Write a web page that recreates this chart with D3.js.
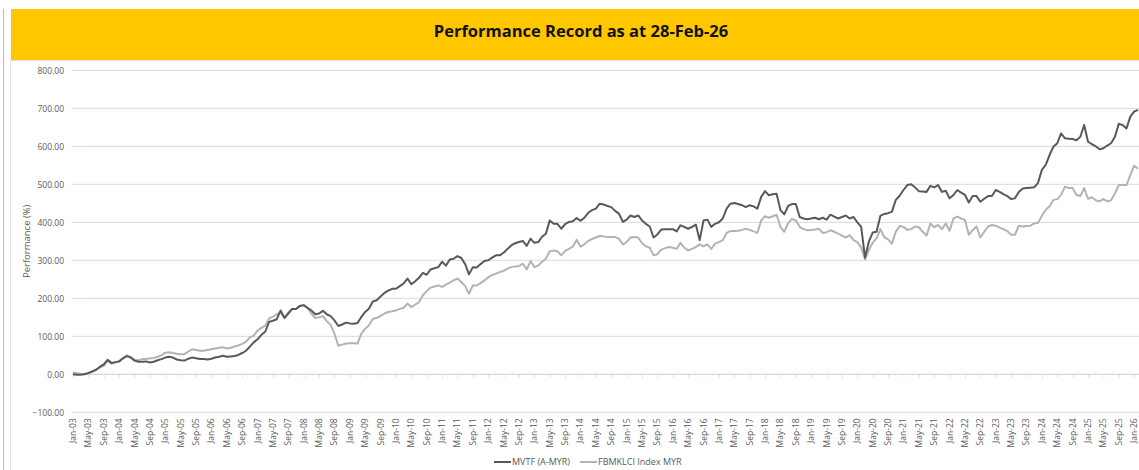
<!DOCTYPE html>
<html>
<head>
<meta charset="utf-8">
<script src="https://cdn.jsdelivr.net/npm/d3@7"></script>
<style>
  html, body { margin: 0; padding: 0; background: #fff; }
  svg { display: block; font-family: "Open Sans", "DejaVu Sans", sans-serif; }
</style>
</head>
<body>
<svg id="chart" width="1139" height="470"></svg>
<script>
// ---- data (monthly, Jan-03 .. Feb-26) ----
const monthNames = ['Jan','Feb','Mar','Apr','May','Jun','Jul','Aug','Sep','Oct','Nov','Dec'];
const firstYear = 2003, lastYear = 2026, lastMonth = 1; // Feb-26

const mvtf = [
  // 2003
  0, -1, -1, 0, 3, 7, 12, 20, 26, 38, 30, 32,
  // 2004
  34, 42, 48, 44, 36, 33, 33, 34, 31, 33, 37, 40,
  // 2005
  44, 46, 44, 39, 37, 36, 41, 44, 42, 40, 40, 39,
  // 2006
  41, 44, 46, 49, 46, 47, 48, 51, 56, 62, 73, 84,
  // 2007
  92, 104, 112, 138, 141, 145, 168, 148, 160, 172, 172, 180,
  // 2008
  182, 175, 168, 158, 160, 167, 158, 153, 142, 127, 131, 136,
  // 2009
  134, 133, 135, 151, 164, 173, 192, 195, 205, 214, 220, 225,
  // 2010
  225, 232, 239, 252, 237, 245, 254, 267, 262, 276, 279, 282,
  // 2011
  296, 286, 302, 304, 311, 306, 290, 263, 282, 281, 290, 298,
  // 2012
  300, 307, 313, 313, 320, 330, 339, 345, 348, 351, 338, 357,
  // 2013
  346, 348, 362, 370, 405, 396, 396, 383, 395, 401, 403, 411,
  // 2014
  404, 412, 425, 432, 436, 449, 447, 443, 440, 430, 423, 401,
  // 2015
  407, 418, 414, 418, 405, 396, 389, 360, 368, 381, 382, 382,
  // 2016
  382, 376, 392, 388, 383, 388, 394, 353, 405, 407, 388, 396,
  // 2017
  400, 410, 436, 449, 451, 448, 445, 440, 445, 442, 436, 467,
  // 2018
  482, 471, 474, 475, 432, 421, 443, 448, 448, 414, 410, 408,
  // 2019
  410, 412, 408, 412, 407, 420, 415, 410, 414, 418, 410, 414,
  // 2020
  400, 388, 307, 349, 373, 375, 417, 422, 424, 428, 459, 470,
  // 2021
  485, 498, 500, 492, 482, 481, 480, 496, 492, 498, 480, 483,
  // 2022
  463, 472, 485, 478, 472, 452, 469, 469, 454, 462, 469, 469,
  // 2023
  485, 480, 474, 469, 461, 463, 480, 489, 490, 491, 492, 504,
  // 2024
  538, 551, 577, 599, 608, 634, 621, 620, 619, 616, 625, 656,
  // 2025
  612, 606, 600, 592, 595, 602, 608, 625, 659, 656, 647, 678,
  // 2026
  691, 696
];

const fbmklci = [
  // 2003
  5, 3, 1, 1, 4, 8, 12, 18, 22, 36, 28, 31,
  // 2004
  34, 42, 50, 46, 38, 37, 40, 40, 42, 43, 46, 50,
  // 2005
  57, 58, 56, 54, 53, 53, 60, 66, 64, 62, 62, 64,
  // 2006
  66, 68, 70, 71, 68, 70, 73, 76, 80, 86, 97, 102,
  // 2007
  115, 122, 128, 147, 152, 158, 162, 150, 162, 172, 172, 180,
  // 2008
  182, 174, 160, 148, 150, 153, 140, 130, 107, 75, 78, 81,
  // 2009
  82, 82, 81, 107, 120, 129, 146, 148, 154, 160, 164, 166,
  // 2010
  168, 172, 175, 186, 177, 183, 190, 208, 219, 228, 231, 234,
  // 2011
  230, 236, 241, 247, 252, 243, 232, 212, 234, 234, 240, 247,
  // 2012
  255, 261, 265, 269, 272, 278, 282, 284, 285, 291, 276, 298,
  // 2013
  282, 286, 296, 304, 324, 326, 324, 313, 325, 330, 336, 354,
  // 2014
  336, 342, 351, 356, 360, 364, 363, 361, 361, 361, 357, 342,
  // 2015
  348, 360, 361, 360, 345, 337, 333, 313, 316, 328, 332, 335,
  // 2016
  333, 330, 346, 333, 326, 330, 335, 342, 337, 342, 330, 344,
  // 2017
  348, 353, 372, 377, 377, 378, 380, 383, 380, 376, 372, 405,
  // 2018
  416, 412, 416, 420, 388, 375, 398, 409, 405, 388, 382, 379,
  // 2019
  380, 381, 383, 372, 374, 379, 375, 370, 365, 360, 366, 353,
  // 2020
  348, 334, 302, 327, 346, 358, 382, 361, 355, 344, 375, 390,
  // 2021
  388, 380, 382, 389, 387, 375, 365, 397, 387, 393, 382, 397,
  // 2022
  378, 410, 415, 410, 406, 367, 380, 389, 360, 375, 389, 393,
  // 2023
  391, 386, 382, 377, 367, 367, 391, 389, 390, 391, 397, 399,
  // 2024
  417, 433, 442, 459, 461, 472, 494, 490, 490, 472, 469, 490,
  // 2025
  462, 466, 458, 455, 461, 455, 458, 476, 498, 498, 498, 524,
  // 2026
  549, 541
];

const yTicks = [-100, 0, 100, 200, 300, 400, 500, 600, 700, 800];
const seriesNames = ['MVTF (A-MYR)', 'FBMKLCI Index MYR'];

// category labels like "Jan-03"
const categories = [];
for (let y = firstYear; y <= lastYear; y++) {
  for (let m = 0; m < 12; m++) {
    if (y === lastYear && m > lastMonth) break;
    categories.push(monthNames[m] + '-' + String(y).slice(2));
  }
}

// ---- layout ----
const svg = d3.select('#chart');
const W = 1139, H = 470;
const plot = { left: 73, right: 1138, top: 70.3, bottom: 412.3 };

// page frame
svg.append('line')
  .attr('x1', 3.5).attr('x2', 3.5).attr('y1', 9).attr('y2', H)
  .attr('stroke', '#f2c200').attr('stroke-width', 1);
svg.append('rect')
  .attr('x', 10.5).attr('y', 60.5).attr('width', W).attr('height', H)
  .attr('fill', '#fff').attr('stroke', '#e3e3e3');
svg.append('rect')
  .attr('x', 11).attr('y', 9).attr('width', W - 11).attr('height', 51)
  .attr('fill', '#ffc700');
svg.append('text')
  .attr('x', 581).attr('y', 37)
  .attr('text-anchor', 'middle')
  .attr('font-size', 16.5).attr('font-weight', 700)
  .attr('fill', '#111')
  .text('Performance Record as at 28-Feb-26');

// scales
const x = d3.scaleLinear().domain([0, categories.length - 1]).range([plot.left, plot.right]);
const y = d3.scaleLinear().domain([-100, 800]).range([plot.bottom, plot.top]);

// gridlines
svg.append('g')
  .selectAll('line')
  .data(yTicks)
  .enter().append('line')
    .attr('x1', plot.left - 1).attr('x2', W)
    .attr('y1', d => y(d)).attr('y2', d => y(d))
    .attr('stroke', '#d9d9d9').attr('stroke-width', 1);

// y axis labels
const yAxis = d3.axisLeft(y).tickValues(yTicks).tickSize(0).tickPadding(9)
  .tickFormat(d => d3.format('.2f')(d));
svg.append('g')
  .attr('transform', `translate(${plot.left},0)`)
  .call(yAxis)
  .call(g => g.select('.domain').remove())
  .call(g => g.selectAll('text')
    .attr('font-size', 8.5).attr('fill', '#595959')
    .attr('font-family', '"Open Sans", sans-serif'));

svg.append('text')
  .attr('transform', `translate(30,${(plot.top + plot.bottom) / 2}) rotate(-90)`)
  .attr('text-anchor', 'middle')
  .attr('font-size', 9.5).attr('fill', '#595959')
  .text('Performance (%)');

// x axis: line at zero with ticks, labels at bottom
const tickIdx = d3.range(0, categories.length, 4);
const xAxis = d3.axisBottom(x).tickValues(tickIdx).tickSize(3).tickFormat('');
svg.append('g')
  .attr('transform', `translate(0,${y(0)})`)
  .call(xAxis)
  .call(g => g.select('.domain').attr('stroke', '#d9d9d9').attr('d', `M${plot.left},0H${W}`))
  .call(g => g.selectAll('.tick line').attr('stroke', '#d9d9d9'));

svg.append('g')
  .selectAll('text')
  .data(tickIdx)
  .enter().append('text')
    .attr('transform', d => `translate(${x(d)},${plot.bottom + 6}) rotate(-90)`)
    .attr('text-anchor', 'end')
    .attr('dy', '0.35em')
    .attr('font-size', 8.5).attr('fill', '#595959')
    .text(d => categories[d]);

// lines
const line = d3.line().x((d, i) => x(i)).y(d => y(d));
svg.append('path')
  .datum(fbmklci)
  .attr('fill', 'none').attr('stroke', '#b3b3b3').attr('stroke-width', 2)
  .attr('stroke-linejoin', 'round')
  .attr('d', line);
svg.append('path')
  .datum(mvtf)
  .attr('fill', 'none').attr('stroke', '#595959').attr('stroke-width', 2)
  .attr('stroke-linejoin', 'round')
  .attr('d', line);

// legend
const legend = [
  { name: seriesNames[0], color: '#595959', x: 494 },
  { name: seriesNames[1], color: '#b3b3b3', x: 580 }
];
const lg = svg.append('g').selectAll('g').data(legend).enter().append('g')
  .attr('transform', d => `translate(${d.x},462)`);
lg.append('line').attr('x1', 0).attr('x2', 17)
  .attr('stroke', d => d.color).attr('stroke-width', 2);
lg.append('text').attr('x', 18).attr('dy', '0.35em')
  .attr('font-size', 9).attr('fill', '#595959')
  .text(d => d.name);
</script>
</body>
</html>
